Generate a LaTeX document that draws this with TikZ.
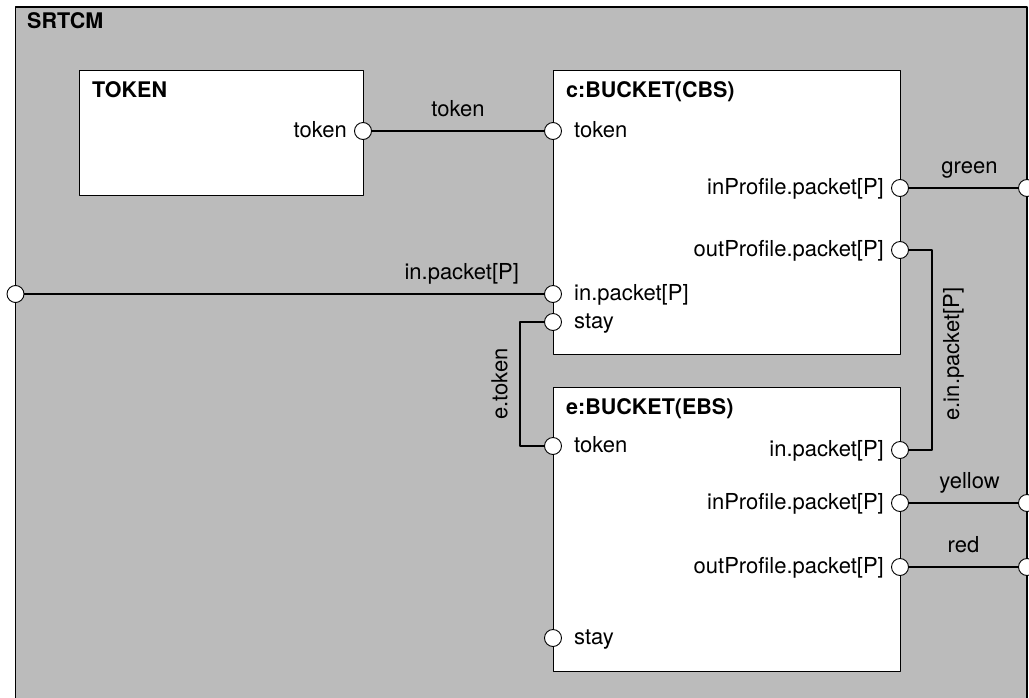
\documentclass[tikz,border=0pt]{standalone}
\usepackage{fontspec}
\setmainfont{TeX Gyre Heros}
\definecolor{bggray}{RGB}{187,187,187}
\begin{document}
\begin{tikzpicture}[x=1pt,y=-1pt,line join=round,
	every node/.style={font=\fontsize{22}{26}\selectfont,inner sep=0pt},
	box/.style={draw,fill=white,line width=1.1pt,anchor=north west},
	port/.style={circle,draw,fill=white,minimum size=17pt,line width=0.9pt},
	wire/.style={line width=2.2pt},
	title/.style={anchor=base west,font=\fontsize{21.5}{26}\selectfont\bfseries}]
	\def\pw{347}%width of a bucket
	\def\ph{284}%height of a bucket
	\useasboundingbox (0,0) rectangle (1029,697);
	%========the SRTCM frame
	\fill[bggray] (15.5,7) rectangle (1027,720);
	\draw[line width=1.1pt] (15.5,720)--(15.5,7)--(1027,7)--(1027,720);
	\node[title] (tSrtcm) at (27,28) {SRTCM};
	%========the three parts
	\node[box,minimum width=284pt,minimum height=125pt] (tok) at (79,70) {};
	\node[box,minimum width=\pw pt,minimum height=\ph pt] (cbs) at (553,70) {};
	\node[box,minimum width=\pw pt,minimum height=\ph pt] (ebs) at (553,387) {};
	\node[title] (tTok) at (92,97) {TOKEN};
	\node[title] (tCbs) at (566,97) {c:BUCKET(CBS)};
	\node[title] (tEbs) at (566,414) {e:BUCKET(EBS)};
	%========ports
	\node[port] (tokTok) at (363,131) {};
	\node[port] (cTok) at (553,131) {};
	\node[port] (cInP) at (900,188) {};
	\node[port] (cOutP) at (900,250) {};
	\node[port] (cIn) at (553,294) {};
	\node[port] (cStay) at (553,322) {};
	\node[port] (eTok) at (553,446) {};
	\node[port] (eIn) at (900,450) {};
	\node[port] (eInP) at (900,503) {};
	\node[port] (eOutP) at (900,567) {};
	\node[port] (eStay) at (553,638) {};
	\node[port] (pIn) at (15.5,294) {};
	\node[port] (pGreen) at (1027,188) {};
	\node[port] (pYellow) at (1027,503) {};
	\node[port] (pRed) at (1027,567) {};
	%========port names
	\node[anchor=base east] (lTokTok) at ([shift={(-16,6)}]tokTok.center) {token};
	\node[anchor=base west] (lcTok) at ([shift={(21,6)}]cTok.center) {token};
	\node[anchor=base east] (lcInP) at ([shift={(-16,6)}]cInP.center) {inProfile.packet[P]};
	\node[anchor=base east] (lcOutP) at ([shift={(-16,6)}]cOutP.center) {outProfile.packet[P]};
	\node[anchor=base west] (lcIn) at ([shift={(21,6)}]cIn.center) {in.packet[P]};
	\node[anchor=base west] (lcStay) at ([shift={(21,6)}]cStay.center) {stay};
	\node[anchor=base west] (leTok) at ([shift={(21,6)}]eTok.center) {token};
	\node[anchor=base east] (leIn) at ([shift={(-16,6)}]eIn.center) {in.packet[P]};
	\node[anchor=base east] (leInP) at ([shift={(-16,6)}]eInP.center) {inProfile.packet[P]};
	\node[anchor=base east] (leOutP) at ([shift={(-16,6)}]eOutP.center) {outProfile.packet[P]};
	\node[anchor=base west] (leStay) at ([shift={(21,6)}]eStay.center) {stay};
	%========connectors
	\draw[wire] (tokTok) -- node[anchor=base,yshift=15pt] (wTok) {token} (cTok);
	\draw[wire] (pIn) -- node[pos=1,anchor=base east,xshift=-24pt,yshift=15pt] (wIn) {in.packet[P]} (cIn);
	\draw[wire] (cInP) -- node[anchor=base,xshift=6pt,yshift=15pt] (wGreen) {green} (pGreen);
	\draw[wire] (eInP) -- node[anchor=base,xshift=6pt,yshift=15pt] (wYellow) {yellow} (pYellow);
	\draw[wire] (eOutP) -- node[anchor=base,yshift=15pt] (wRed) {red} (pRed);
	\draw[wire] (cStay.west) -- ++(-24,0) |- (eTok.west);
	\draw[wire] (cOutP.east) -- ++(23,0) |- (eIn.east);
	\node[rotate=90,anchor=south] (wEtok) at (508,384) {e.token};
	\node[rotate=90,anchor=north] (wEin) at (943,354) {e.in.packet[P]};
\end{tikzpicture}
\end{document}
